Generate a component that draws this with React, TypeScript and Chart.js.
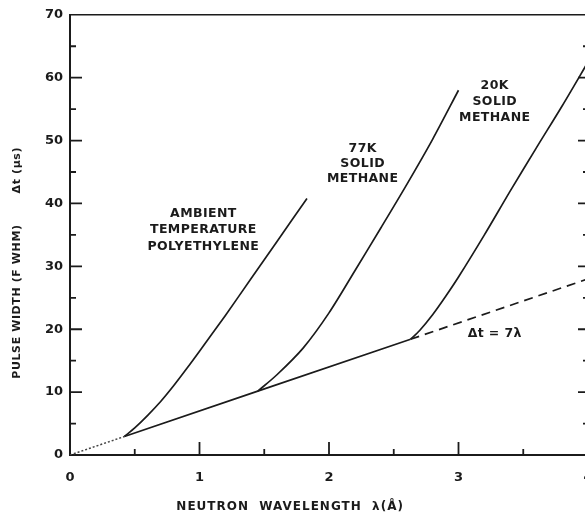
import React, { useEffect, useRef } from "react";
import { Chart, registerables } from "chart.js";

Chart.register(...registerables);

// Axis tick values
const wavelengthTicks = [0, 1, 2, 3, 4];
const widthTicks = [0, 10, 20, 30, 40, 50, 60, 70];

// Δt = 7λ reference line: dotted start, solid middle, dashed tail
const refLambdaDotted = [0, 0.42];
const refWidthDotted = [0, 2.94];
const refLambdaSolid = [0.42, 1.45, 2.63];
const refWidthSolid = [2.94, 10.15, 18.41];
const refLambdaDashed = [2.63, 4.0];
const refWidthDashed = [18.41, 28.0];

// Ambient temperature polyethylene moderator
const polyLambda = [0.42, 0.5, 0.6, 0.7, 0.8, 0.9, 1.0, 1.2, 1.4, 1.6, 1.83];
const polyWidth = [2.94, 4.3, 6.3, 8.5, 11.0, 13.7, 16.5, 22.2, 28.1, 34.0, 40.8];

// 77K solid methane moderator
const methane77Lambda = [1.45, 1.6, 1.8, 2.0, 2.2, 2.4, 2.6, 2.8, 3.0];
const methane77Width = [10.15, 12.8, 17.0, 22.6, 29.3, 36.1, 43.0, 50.2, 58.0];

// 20K solid methane moderator
const methane20Lambda = [2.63, 2.7, 2.8, 2.9, 3.0, 3.2, 3.4, 3.6, 3.8, 4.0];
const methane20Width = [18.41, 19.8, 22.3, 25.2, 28.3, 35.0, 42.0, 48.8, 55.5, 62.5];

// Curve labels
const polyLabel = ["AMBIENT", "TEMPERATURE", "POLYETHYLENE"];
const methane77Label = ["77K", "SOLID", "METHANE"];
const methane20Label = ["20K", "SOLID", "METHANE"];
const refLabel = "Δt = 7λ";
const xTitle = "NEUTRON  WAVELENGTH  λ(Å)";
const yTitleMain = "PULSE WIDTH (F WHM)";
const yTitleUnit = "Δt (μs)";

const INK = "#1b1b1b";
const FONT = '"DejaVu Sans", sans-serif';

const pts = (xs: number[], ys: number[]) => xs.map((x, i) => ({ x, y: ys[i] }));

const lineStyle = {
  borderColor: INK,
  borderWidth: 1.7,
  pointRadius: 0,
  fill: false,
  tension: 0.3,
};

const framePlugin = {
  id: "frame",
  afterDraw(chart: any) {
    const { ctx, chartArea, scales } = chart;
    const xs = scales.x;
    const ys = scales.y;
    const { left, right, top, bottom } = chartArea;
    ctx.save();
    ctx.strokeStyle = INK;
    ctx.lineCap = "butt";

    // top and right frame
    ctx.lineWidth = 1.6;
    ctx.beginPath();
    ctx.moveTo(left, top);
    ctx.lineTo(right, top);
    ctx.lineTo(right, bottom);
    ctx.stroke();

    // inward ticks on the left and right axes
    ctx.lineWidth = 1.8;
    for (let i = 0; i < widthTicks.length; i++) {
      const v = widthTicks[i];
      const y = ys.getPixelForValue(v);
      if (v > 0 && v < 70) {
        ctx.beginPath();
        ctx.moveTo(left, y);
        ctx.lineTo(left + 12, y);
        ctx.moveTo(right, y);
        ctx.lineTo(right - 10, y);
        ctx.stroke();
      }
      if (i < widthTicks.length - 1) {
        const ym = ys.getPixelForValue((v + widthTicks[i + 1]) / 2);
        ctx.beginPath();
        ctx.moveTo(left, ym);
        ctx.lineTo(left + 6, ym);
        ctx.moveTo(right, ym);
        ctx.lineTo(right - 5, ym);
        ctx.stroke();
      }
    }

    // inward ticks on the bottom axis
    for (let i = 0; i < wavelengthTicks.length; i++) {
      const v = wavelengthTicks[i];
      const x = xs.getPixelForValue(v);
      if (v > 0 && v < 4) {
        ctx.beginPath();
        ctx.moveTo(x, bottom);
        ctx.lineTo(x, bottom - 13);
        ctx.stroke();
      }
      if (i < wavelengthTicks.length - 1) {
        const xm = xs.getPixelForValue((v + wavelengthTicks[i + 1]) / 2);
        ctx.beginPath();
        ctx.moveTo(xm, bottom);
        ctx.lineTo(xm, bottom - 6);
        ctx.stroke();
      }
    }

    // curve labels
    ctx.fillStyle = INK;
    ctx.textAlign = "center";
    ctx.textBaseline = "middle";
    ctx.font = `bold 12.5px ${FONT}`;
    (ctx as any).letterSpacing = "0.4px";
    const block = (lines: string[], lx: number, ly: number, gap: number) => {
      const cx = xs.getPixelForValue(lx);
      const cy = ys.getPixelForValue(ly);
      lines.forEach((t, k) => ctx.fillText(t, cx, cy + k * gap));
    };
    block(polyLabel, 1.03, 38.4, 16.5);
    block(methane77Label, 2.26, 48.7, 15);
    block(methane20Label, 3.28, 58.7, 16);
    block([refLabel], 3.28, 19.3, 0);

    // axis titles
    ctx.font = `bold 12px ${FONT}`;
    (ctx as any).letterSpacing = "1px";
    ctx.fillText(xTitle, xs.getPixelForValue(1.7), bottom + 52);

    ctx.font = `bold 11px ${FONT}`;
    (ctx as any).letterSpacing = "0.6px";
    const drawVertical = (t: string, v: number) => {
      ctx.save();
      ctx.translate(17, ys.getPixelForValue(v));
      ctx.rotate(-Math.PI / 2);
      ctx.fillText(t, 0, 0);
      ctx.restore();
    };
    drawVertical(yTitleMain, 24.4);
    drawVertical(yTitleUnit, 45.3);

    ctx.restore();
  },
};

export default function App() {
  const ref = useRef<HTMLCanvasElement>(null);

  useEffect(() => {
    if (!ref.current) return;
    const chart = new Chart(ref.current, {
      type: "line",
      data: {
        datasets: [
          {
            ...lineStyle,
            data: pts(refLambdaDotted, refWidthDotted),
            borderColor: "#444",
            borderWidth: 1.5,
            borderDash: [2, 2],
            tension: 0,
          },
          { ...lineStyle, data: pts(refLambdaSolid, refWidthSolid), tension: 0 },
          {
            ...lineStyle,
            data: pts(refLambdaDashed, refWidthDashed),
            borderDash: [9, 6],
            tension: 0,
          },
          { ...lineStyle, data: pts(polyLambda, polyWidth) },
          { ...lineStyle, data: pts(methane77Lambda, methane77Width) },
          { ...lineStyle, data: pts(methane20Lambda, methane20Width) },
        ],
      },
      options: {
        responsive: false,
        animation: false,
        layout: { padding: { top: 8, right: 22, left: 0, bottom: 0 } },
        plugins: {
          legend: { display: false },
          tooltip: { enabled: false },
        },
        scales: {
          x: {
            type: "linear",
            min: 0,
            max: 4,
            afterBuildTicks: (s: any) => {
              s.ticks = wavelengthTicks.map((value) => ({ value }));
            },
            afterFit: (s: any) => {
              s.height = 63;
            },
            grid: { display: false, drawTicks: false },
            border: { display: true, color: INK, width: 2 },
            ticks: {
              padding: 15,
              color: INK,
              font: { family: FONT, size: 13, weight: "bold" },
              maxRotation: 0,
            },
          },
          y: {
            type: "linear",
            min: 0,
            max: 70,
            afterBuildTicks: (s: any) => {
              s.ticks = widthTicks.map((value) => ({ value }));
            },
            afterFit: (s: any) => {
              s.width = 70;
            },
            grid: { display: false, drawTicks: false },
            border: { display: true, color: INK, width: 2 },
            ticks: {
              padding: 7,
              color: INK,
              font: { family: FONT, size: 13, weight: "bold" },
            },
          },
        },
      },
      plugins: [framePlugin],
    });
    return () => chart.destroy();
  }, []);

  return (
    <div
      style={{
        position: "absolute",
        left: 0,
        top: 0,
        width: 585,
        height: 518,
        overflow: "hidden",
        background: "#fff",
      }}
    >
      <canvas ref={ref} width={610} height={518} style={{ display: "block" }} />
    </div>
  );
}
